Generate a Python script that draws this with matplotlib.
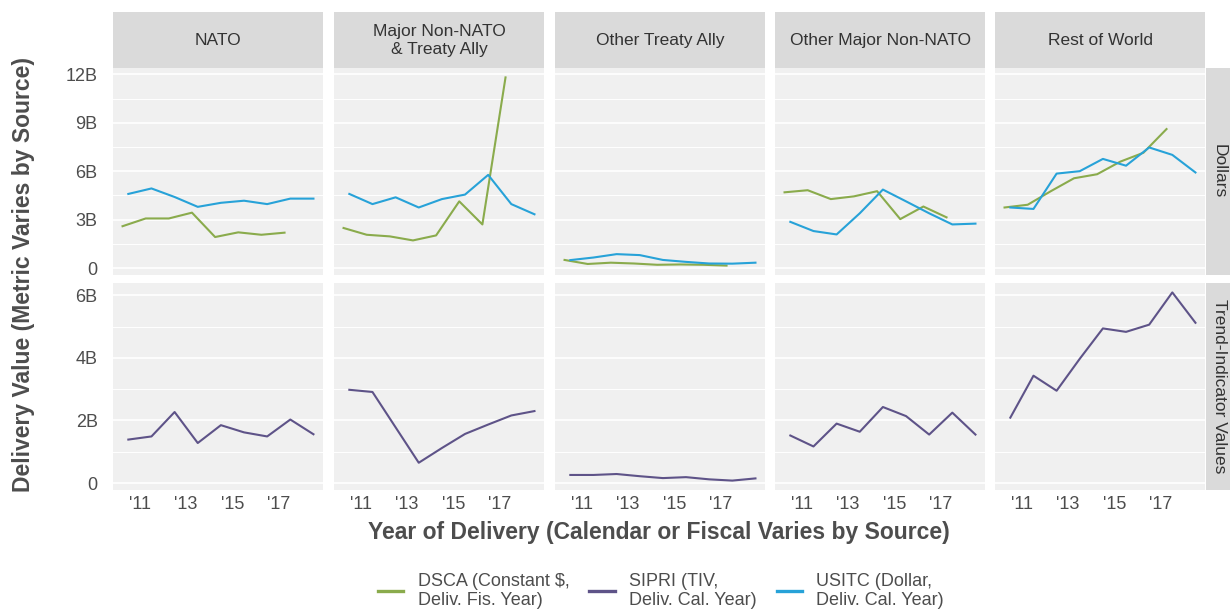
import numpy as np
import matplotlib.pyplot as plt
from matplotlib.lines import Line2D

plt.rcParams['font.family'] = ['Liberation Sans', 'DejaVu Sans']

# Regiones (columnas) y métricas (filas)
regiones = ['NATO', 'Major Non-NATO\n& Treaty Ally', 'Other Treaty Ally',
            'Other Major Non-NATO', 'Rest of World']
metricas = ['Dollars', 'Trend-Indicator Values']

# Años calendario (USITC, SIPRI) y fiscales (DSCA)
anios_cal = np.arange(2010, 2019)
anios_fis = np.arange(2010, 2018)

# DSCA, miles de millones de dólares constantes (año fiscal)
dsca = [
    [2.59, 3.07, 3.07, 3.43, 1.92, 2.21, 2.06, 2.19],
    [2.48, 2.06, 1.96, 1.71, 2.02, 4.13, 2.70, 11.81],
    [0.50, 0.25, 0.33, 0.28, 0.20, 0.22, 0.20, 0.15],
    [4.69, 4.82, 4.27, 4.44, 4.76, 3.03, 3.81, 3.14],
    [3.75, 3.92, 4.76, 5.56, 5.81, 6.59, 7.14, 8.61],
]

# USITC, miles de millones de dólares (año calendario)
usitc = [
    [4.59, 4.93, 4.40, 3.79, 4.04, 4.17, 3.96, 4.30, 4.30],
    [4.59, 3.96, 4.38, 3.75, 4.27, 4.55, 5.77, 3.96, 3.33],
    [0.49, 0.65, 0.86, 0.80, 0.50, 0.38, 0.28, 0.27, 0.33],
    [2.86, 2.29, 2.08, 3.39, 4.86, 4.13, 3.39, 2.70, 2.75],
    [3.75, 3.66, 5.85, 6.00, 6.76, 6.34, 7.47, 7.01, 5.92],
]

# SIPRI, miles de millones de TIV (año calendario)
sipri = [
    [1.39, 1.49, 2.27, 1.28, 1.85, 1.62, 1.49, 2.03, 1.56],
    [2.98, 2.91, 1.78, 0.65, 1.12, 1.57, 1.87, 2.16, 2.30],
    [0.26, 0.26, 0.29, 0.22, 0.16, 0.19, 0.12, 0.08, 0.15],
    [1.52, 1.17, 1.90, 1.64, 2.43, 2.14, 1.55, 2.25, 1.55],
    [2.09, 3.43, 2.95, 3.97, 4.94, 4.83, 5.06, 6.09, 5.12],
]

ticks_x = [2011, 2013, 2015, 2017]
etiquetas_x = ["'11", "'13", "'15", "'17"]
ticks_y = [[0, 3, 6, 9, 12], [0, 2, 4, 6]]
etiquetas_y = [['0', '3B', '6B', '9B', '12B'], ['0', '2B', '4B', '6B']]
menores_y = [[1.5, 4.5, 7.5, 10.5], [1, 3, 5]]

verde = '#8aab4c'
morado = '#5e5388'
azul = '#27a2d8'
fondo = '#f0f0f0'
franja = '#dadada'
texto = '#4d4d4d'

W, H = 1230, 611
fig = plt.figure(figsize=(W / 100, H / 100), dpi=100)


def rect(l, t, w, h):
    return [l / W, 1 - (t + h) / H, w / W, h / H]


# Posiciones en píxeles
izq = [113, 334, 555, 775, 995]
ancho = 210
filas = [(68, 207), (283, 207)]

# Escalas comunes por fila (expansión 5% estilo ggplot)
x_cal = anios_cal + 0.5
x_fis = anios_fis + 0.25
xmin, xmax = x_fis.min(), x_cal.max()
dx = (xmax - xmin) * 0.05
lim_x = (xmin - dx, xmax + dx)


def limites(valores):
    v = np.concatenate([np.ravel(a) for a in valores])
    d = (v.max() - v.min()) * 0.05
    return v.min() - d, v.max() + d


lim_y = [limites(dsca + usitc), limites(sipri)]

for i in range(5):
    # Encabezado de la columna
    sa = fig.add_axes(rect(izq[i], 12, ancho, 56))
    sa.set_facecolor(franja)
    sa.set_xticks([])
    sa.set_yticks([])
    for s in sa.spines.values():
        s.set_visible(False)
    sa.text(0.5, 0.49, regiones[i], ha='center', va='center', fontsize=12.5,
            color='#333333', transform=sa.transAxes, linespacing=1.3)

    for f in range(2):
        top, alto = filas[f]
        ax = fig.add_axes(rect(izq[i], top, ancho, alto))
        ax.set_facecolor(fondo)
        for s in ax.spines.values():
            s.set_visible(False)
        ax.set_xlim(lim_x)
        ax.set_ylim(lim_y[f])
        ax.set_yticks(ticks_y[f])
        ax.set_yticks(menores_y[f], minor=True)
        ax.grid(axis='y', which='major', color='white', linewidth=1.2)
        ax.grid(axis='y', which='minor', color='white', linewidth=0.7)
        ax.set_axisbelow(True)
        ax.tick_params(length=0, which='both', labelsize=13, labelcolor=texto)
        ax.tick_params(axis='y', pad=11)
        ax.tick_params(axis='x', pad=4)
        ax.set_xticks(ticks_x)
        if i == 0:
            ax.set_yticklabels(etiquetas_y[f])
        else:
            ax.set_yticklabels([])
        if f == 1:
            ax.set_xticklabels(etiquetas_x)
        else:
            ax.set_xticklabels([])

        if f == 0:
            ax.plot(x_fis, dsca[i], color=verde, lw=1.5)
            ax.plot(x_cal, usitc[i], color=azul, lw=1.5)
        else:
            ax.plot(x_cal, sipri[i], color=morado, lw=1.5)

# Etiquetas de fila a la derecha
for f in range(2):
    top, alto = filas[f]
    ra = fig.add_axes(rect(1206, top, 30, alto))
    ra.set_facecolor(franja)
    ra.set_xticks([])
    ra.set_yticks([])
    for s in ra.spines.values():
        s.set_visible(False)
    ra.text(0.45, 0.5, metricas[f], rotation=-90, ha='center', va='center',
            fontsize=12.5, color='#333333', transform=ra.transAxes)

fig.text(24 / W, 1 - 275 / H, 'Delivery Value (Metric Varies by Source)',
         rotation=90, ha='center', va='center', fontsize=16.5,
         fontweight='bold', color=texto)
fig.text(659 / W, 1 - 533 / H,
         'Year of Delivery (Calendar or Fiscal Varies by Source)',
         ha='center', va='center', fontsize=16.5, fontweight='bold', color=texto)

manijas = [Line2D([], [], color=verde, lw=2.4),
           Line2D([], [], color=morado, lw=2.4),
           Line2D([], [], color=azul, lw=2.4)]
nombres = ['DSCA (Constant \\$,\nDeliv. Fis. Year)',
           'SIPRI (TIV,\nDeliv. Cal. Year)',
           'USITC (Dollar,\nDeliv. Cal. Year)']
fig.legend(manijas, nombres, loc='center', ncol=3, frameon=False,
           bbox_to_anchor=(661 / W, 1 - 591 / H), fontsize=13,
           handlelength=1.4, handletextpad=0.8, columnspacing=1.1,
           labelcolor=texto, labelspacing=0.2)

fig.savefig('out.png', dpi=100)
